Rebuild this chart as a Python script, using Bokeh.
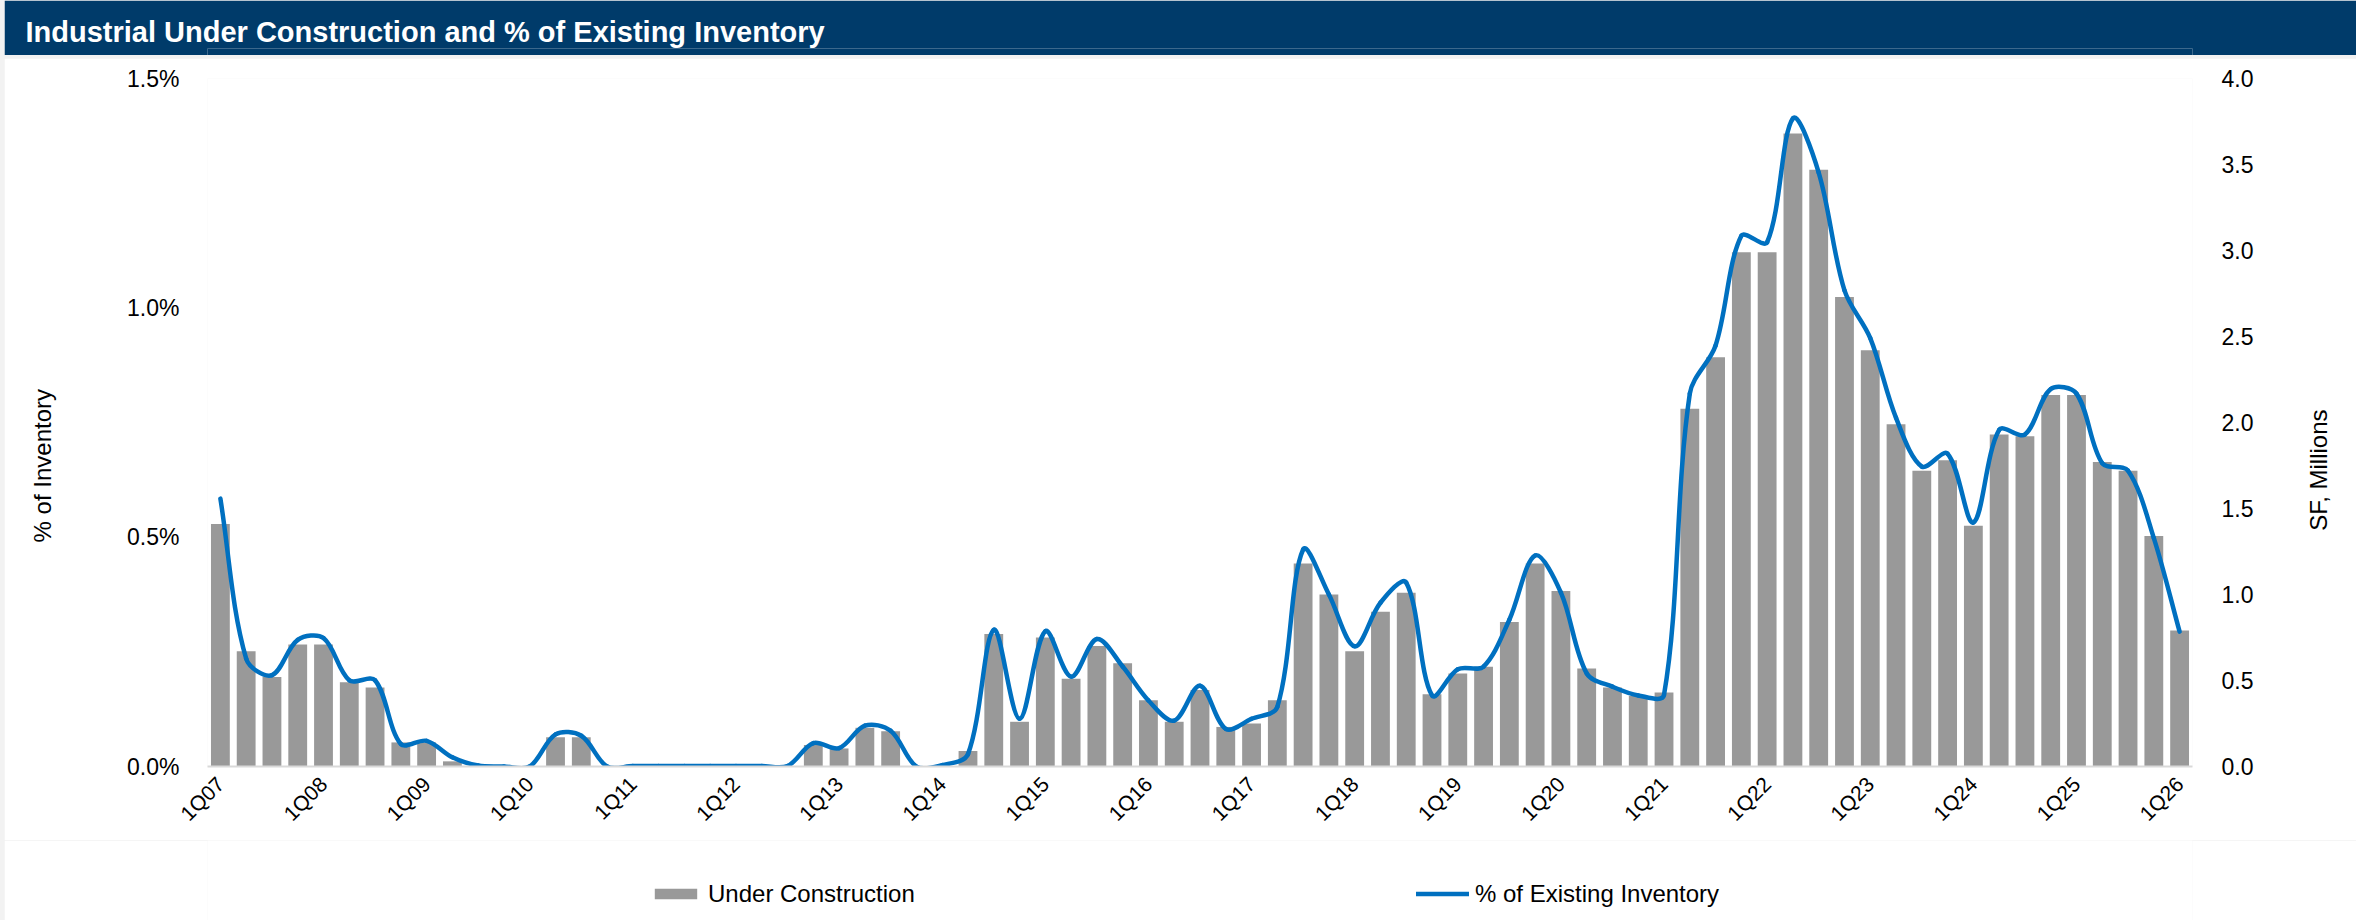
import math
from bokeh.plotting import figure
from bokeh.models import (Range1d, LinearAxis, FixedTicker, PrintfTickFormatter,
                          Legend, LegendItem, ColumnDataSource)
from bokeh.layouts import column
from bokeh.embed import file_html
from bokeh.resources import INLINE

# ---------------- data ----------------
title_text = "Industrial Under Construction and % of Existing Inventory"
quarters = [f"{q}Q{y:02d}" for y in range(7, 27) for q in (1, 2, 3, 4)][:77]

# Under construction, SF millions (right axis)
under_construction = [
    1.41, 0.67, 0.52, 0.71, 0.71, 0.49, 0.46, 0.14,   # 1Q07-4Q08
    0.14, 0.03, 0.00, 0.00, 0.00, 0.17, 0.17, 0.00,   # 1Q09-4Q10
    0.00, 0.00, 0.00, 0.00, 0.00, 0.00, 0.00, 0.125,  # 1Q11-4Q12
    0.105, 0.225, 0.205, 0.00, 0.00, 0.09, 0.77, 0.26,  # 1Q13-4Q14
    0.75, 0.51, 0.70, 0.60, 0.385, 0.26, 0.445, 0.23,   # 1Q15-4Q16
    0.25, 0.385, 1.18, 1.00, 0.67, 0.90, 1.01, 0.42,    # 1Q17-4Q18
    0.54, 0.58, 0.84, 1.18, 1.02, 0.57, 0.46, 0.41,     # 1Q19-4Q20
    0.43, 2.08, 2.38, 2.99, 2.99, 3.68, 3.47, 2.73,     # 1Q21-4Q22
    2.42, 1.99, 1.72, 1.78, 1.40, 1.93, 1.92, 2.16,     # 1Q23-4Q24
    2.16, 1.77, 1.72, 1.34, 0.79,                       # 1Q25-1Q26
]

# % of existing inventory (left axis, in percent)
pct_inventory = [
    0.584, 0.235, 0.199, 0.276, 0.280, 0.188, 0.188, 0.049,
    0.056, 0.020, 0.002, 0.000, 0.000, 0.070, 0.067, 0.000,
    0.001, 0.001, 0.001, 0.001, 0.001, 0.001, 0.001, 0.051,
    0.040, 0.089, 0.078, 0.000, 0.003, 0.027, 0.298, 0.104,
    0.295, 0.196, 0.278, 0.218, 0.144, 0.100, 0.176, 0.082,
    0.104, 0.130, 0.473, 0.375, 0.262, 0.357, 0.401, 0.155,
    0.212, 0.218, 0.320, 0.460, 0.379, 0.203, 0.174, 0.155,
    0.156, 0.813, 0.918, 1.157, 1.143, 1.413, 1.295, 1.038,
    0.934, 0.760, 0.654, 0.682, 0.532, 0.734, 0.724, 0.823,
    0.813, 0.661, 0.645, 0.498, 0.294,
]

left_ticks = [0.0, 0.5, 1.0, 1.5]
right_ticks = [0.0, 0.5, 1.0, 1.5, 2.0, 2.5, 3.0, 3.5, 4.0]
label_ticks = list(range(0, len(quarters), 4))
series_names = ["Under Construction", "% of Existing Inventory"]
left_title = "% of Inventory"
right_title = "SF, Millions"

FONT = "Liberation Sans"
NAVY = "#003B6A"
BLUE = "#0070C0"
GRAY = "#999999"

n = len(quarters)
idx = list(range(n))

# ---------------- title bar (its own small figure) ----------------
tf = figure(width=2352, height=55, output_backend="svg", toolbar_location=None,
            x_axis_location=None, y_axis_location=None,
            background_fill_color=NAVY, border_fill_color=NAVY,
            outline_line_color=None, min_border=0, margin=(0, 0, 0, 4))
tf.xgrid.visible = False
tf.ygrid.visible = False
tf.title.text = title_text
tf.title.align = "left"
tf.title.offset = -182
tf.title.standoff = 0
tf.title.text_color = "white"
tf.title.text_font = FONT
tf.title.text_font_size = "29px"
tf.title.text_font_style = "bold"
tf.title.vertical_align = "middle"
tf.min_border_top = 48

# ---------------- main chart ----------------
FRAME_W, FRAME_H = 1985, 688
p = figure(width=2352, height=782, output_backend="svg", toolbar_location=None,
           title=None, x_range=Range1d(-0.5, n - 0.5), y_range=Range1d(0, 1.5),
           min_border_left=203, min_border_right=164, min_border_top=20,
           min_border_bottom=74, background_fill_color="white",
           border_fill_color="white", outline_line_color=None, margin=(3, 0, 0, 4))
p.extra_y_ranges = {"sf": Range1d(0, 4)}
p.xgrid.visible = False
p.ygrid.visible = False

src = ColumnDataSource(dict(x=idx, uc=under_construction, pct=pct_inventory, q=quarters))
bar_style = dict(fill_color=GRAY, line_color=None)
line_style = dict(line_color=BLUE, line_width=4.5, line_cap="round")
bars = p.vbar(x="x", top="uc", width=0.73, source=src, y_range_name="sf", **bar_style)

# smoothed line: cubic Bezier segments whose handles are scaled by the
# neighbouring segment lengths on screen (the way Excel smooths a line)
sx_scale = FRAME_W / n          # px per quarter
sy_scale = FRAME_H / 1.5        # px per percentage point
def seglen(i, j):
    return math.hypot((idx[j] - idx[i]) * sx_scale,
                      (pct_inventory[j] - pct_inventory[i]) * sy_scale)
x0, y0, x1, y1, cx0, cy0, cx1, cy1 = [], [], [], [], [], [], [], []
for i in range(n - 1):
    a = i - 1 if i > 0 else i
    d = i + 2 if i + 2 < n else i + 1
    d_prev = seglen(a, i) if a != i else 0.0
    d_cur = seglen(i, i + 1)
    d_next = seglen(i + 1, d) if d != i + 1 else 0.0
    f0 = d_cur / (d_prev + d_cur) if (d_prev + d_cur) > 0 else 0.5
    f1 = d_cur / (d_cur + d_next) if (d_cur + d_next) > 0 else 0.5
    x0.append(idx[i]); y0.append(pct_inventory[i])
    x1.append(idx[i + 1]); y1.append(pct_inventory[i + 1])
    cx0.append(idx[i] + (idx[i + 1] - idx[a]) * f0 / 3.0)
    cy0.append(pct_inventory[i] + (pct_inventory[i + 1] - pct_inventory[a]) * f0 / 3.0)
    cx1.append(idx[i + 1] - (idx[d] - idx[i]) * f1 / 3.0)
    cy1.append(pct_inventory[i + 1] - (pct_inventory[d] - pct_inventory[i]) * f1 / 3.0)
curve = p.bezier(x0=x0, y0=y0, x1=x1, y1=y1, cx0=cx0, cy0=cy0, cx1=cx1, cy1=cy1,
                 **line_style)

def quiet(axis):
    axis.axis_line_color = None
    axis.major_tick_line_color = None
    axis.minor_tick_line_color = None

# x axis
xa = p.xaxis[0]
xa.ticker = FixedTicker(ticks=label_ticks)
xa.major_label_overrides = {i: quarters[i] for i in label_ticks}
xa.major_label_orientation = math.pi / 4
xa.major_label_text_font = FONT
xa.major_label_text_font_size = "21px"
xa.major_label_text_color = "#000000"
xa.major_label_standoff = 8
xa.axis_line_color = "#D9D9D9"
xa.axis_line_width = 2
xa.major_tick_line_color = None
xa.minor_tick_line_color = None

# left axis
ya = p.yaxis[0]
ya.ticker = FixedTicker(ticks=left_ticks)
ya.formatter = PrintfTickFormatter(format="%.1f%%")
ya.major_label_text_font = FONT
ya.major_label_text_font_size = "23px"
ya.major_label_text_color = "#000000"
ya.major_label_standoff = 22
quiet(ya)

# right axis
ra = LinearAxis(y_range_name="sf", ticker=FixedTicker(ticks=right_ticks),
                formatter=PrintfTickFormatter(format="%.1f"))
ra.major_label_text_font = FONT
ra.major_label_text_font_size = "23px"
ra.major_label_text_color = "#000000"
ra.major_label_standoff = 23
quiet(ra)
p.add_layout(ra, "right")

# axis titles, written bottom-to-top (as rotated single labels on outer axes)
left_anchor = 0.823     # % value at which the left title ends
right_anchor = 1.37     # SF value at which the right title starts
lt = LinearAxis(ticker=FixedTicker(ticks=[left_anchor]),
                major_label_overrides={left_anchor: left_title},
                major_label_orientation=math.pi / 2, major_label_standoff=76,
                major_label_text_font=FONT, major_label_text_font_size="24px",
                major_label_text_color="#000000")
quiet(lt)
p.add_layout(lt, "left")
rt = LinearAxis(y_range_name="sf", ticker=FixedTicker(ticks=[right_anchor]),
                major_label_overrides={right_anchor: right_title},
                major_label_orientation=math.pi / 2, major_label_standoff=56,
                major_label_text_font=FONT, major_label_text_font_size="24px",
                major_label_text_color="#000000")
quiet(rt)
p.add_layout(rt, "right")

# ---------------- legend strip (own figure, frames aligned with the chart) ----------------
lf = figure(width=2352, height=80, output_backend="svg", toolbar_location=None,
            x_axis_location=None, y_axis_location=None, title=None,
            x_range=Range1d(0, 1), y_range=Range1d(0, 1),
            background_fill_color="white", border_fill_color="white",
            outline_line_color=None, min_border_left=203, min_border_right=164,
            min_border_top=0, min_border_bottom=0, margin=(0, 0, 0, 4))
lf.xgrid.visible = False
lf.ygrid.visible = False
nan = float("nan")
key_bar = lf.vbar(x=[nan], top=[nan], width=0.5, **bar_style)
key_line = lf.line(x=[nan, nan], y=[nan, nan], **line_style)
legend = Legend(items=[LegendItem(label=series_names[0], renderers=[key_bar]),
                       LegendItem(label=series_names[1], renderers=[key_line])],
                orientation="horizontal", location=(442, 11.5),
                glyph_width=53, glyph_height=13, label_height=30, label_width=708,
                label_standoff=6, spacing=0, padding=0, margin=0,
                label_text_font=FONT, label_text_font_size="24px",
                label_text_color="#000000", border_line_color=None,
                background_fill_alpha=0)
lf.add_layout(legend)

layout = column(tf, p, lf, spacing=0, styles={"background-color": "#F2F2F2"})
open("out.html", "w").write(file_html(layout, INLINE))
